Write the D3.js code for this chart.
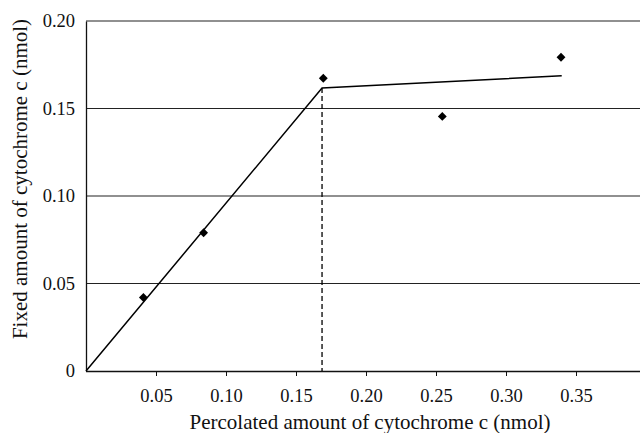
<!DOCTYPE html>
<html><head><meta charset="utf-8">
<script src="https://cdn.jsdelivr.net/npm/d3@7"></script>
<style>body{margin:0;background:#fff}svg{display:block}</style>
</head><body>
<svg id="c" width="640" height="433"></svg>
<script>
const pointsX = [0.041, 0.084, 0.1695, 0.2545, 0.3393];
const pointsY = [0.042, 0.079, 0.1673, 0.1455, 0.1793];
const fitX = [0, 0.1686, 0.3398];
const fitY = [0, 0.1617, 0.1687];
const breakX = 0.1686;
const xTicks = [0.05, 0.10, 0.15, 0.20, 0.25, 0.30, 0.35];
const yTicks = [0, 0.05, 0.10, 0.15, 0.20];
const xLabel = "Percolated amount of cytochrome c (nmol)";
const yLabel = "Fixed amount of cytochrome c (nmol)";

const svg = d3.select("#c");
const font = "'Liberation Serif','Times New Roman',serif";
const x = d3.scaleLinear().domain([0, 0.05]).range([86, 156]);
const y = d3.scaleLinear().domain([0, 0.20]).range([371, 21]);

// gridlines
svg.append("g").selectAll("line").data(yTicks.filter(d => d > 0)).join("line")
  .attr("x1", 86).attr("x2", 640)
  .attr("y1", d => y(d)).attr("y2", d => y(d))
  .attr("stroke", "#222").attr("stroke-width", 1.2);

// x axis
const xa = svg.append("g").attr("transform", `translate(0,${y(0)})`)
  .call(d3.axisBottom(x).tickValues(xTicks).tickFormat(d3.format(".2f")).tickSize(5).tickPadding(13))
  .attr("font-family", font).attr("font-size", 18.5);
xa.select(".domain").attr("d", `M86,0.5H640`).attr("stroke", "#111").attr("stroke-width", 1.3);
xa.selectAll(".tick line").attr("stroke", "#111");
xa.selectAll("text").attr("fill", "#111");

// y axis
const ya = svg.append("g").attr("transform", `translate(${x(0)},0)`)
  .call(d3.axisLeft(y).tickValues(yTicks).tickFormat(d => d === 0 ? "0" : d3.format(".2f")(d)).tickSize(0).tickPadding(11))
  .attr("font-family", font).attr("font-size", 18.5);
ya.select(".domain").attr("stroke", "#111").attr("stroke-width", 1.3);
ya.selectAll("text").attr("fill", "#111");

// dashed vertical
svg.append("line")
  .attr("x1", x(breakX)).attr("x2", x(breakX))
  .attr("y1", y(fitY[1])).attr("y2", y(0))
  .attr("stroke", "#000").attr("stroke-width", 1.3).attr("stroke-dasharray", "5,3");

// fit line
const fit = fitX.map((d, i) => [d, fitY[i]]);
svg.append("path").datum(fit)
  .attr("d", d3.line().x(d => x(d[0])).y(d => y(d[1])))
  .attr("fill", "none").attr("stroke", "#000").attr("stroke-width", 1.5);

// points
const pts = pointsX.map((d, i) => [d, pointsY[i]]);
svg.append("g").selectAll("path").data(pts).join("path")
  .attr("transform", d => `translate(${x(d[0])},${y(d[1])})`)
  .attr("d", d3.symbol(d3.symbolDiamond2, 50))
  .attr("fill", "#000");

// labels
svg.append("text").text(xLabel)
  .attr("x", 370).attr("y", 429).attr("text-anchor", "middle")
  .attr("font-family", font).attr("font-size", 21).attr("fill", "#111");
svg.append("text").text(yLabel)
  .attr("transform", "translate(27,179) rotate(-90)").attr("text-anchor", "middle")
  .attr("font-family", font).attr("font-size", 21).attr("fill", "#111");
</script>
</body></html>
